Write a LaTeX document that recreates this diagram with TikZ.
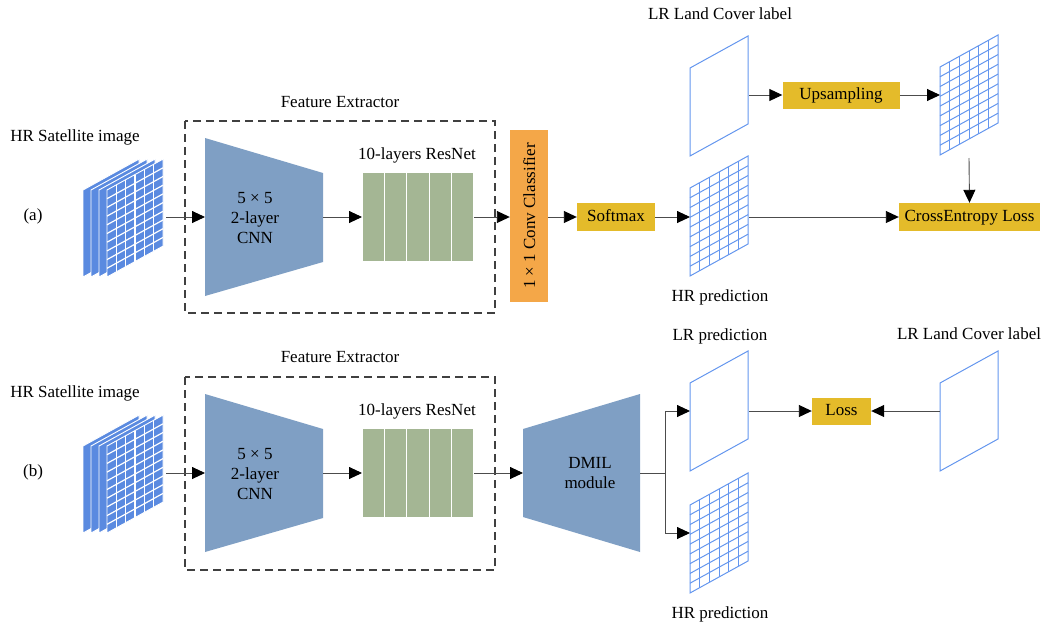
\documentclass[tikz,border=0pt]{standalone}
\usepackage{fontspec}
\setmainfont{Liberation Serif}
\usetikzlibrary{arrows.meta,calc}
\definecolor{satblue}{RGB}{90,138,224}
\definecolor{planeblue}{RGB}{100,150,238}
\definecolor{trapblue}{RGB}{127,159,196}
\definecolor{resgreen}{RGB}{164,182,148}
\definecolor{convorange}{RGB}{244,167,72}
\definecolor{boxyellow}{RGB}{228,187,42}
\tikzset{
  lbl/.style={font=\fontsize{17}{20}\selectfont, inner sep=0pt, text height=11.5pt, text depth=3.5pt},
  multi/.style={font=\fontsize{17}{20}\selectfont, inner sep=0pt, align=center},
  arr/.style={draw=black!70, line width=0.9pt, -{Triangle[length=13pt,width=12pt,black]}},
  conn/.style={draw=black!70, line width=0.9pt},
  ybox/.style={fill=boxyellow, font=\fontsize{17}{20}\selectfont, inner sep=0pt, text height=11.5pt, text depth=3.5pt},
  dbox/.style={draw=black!75, dash pattern=on 8pt off 5pt, line width=1.4pt},
  planeline/.style={draw=planeblue, line width=1pt},
  trap/.style={fill=trapblue},
  resblock/.style={fill=resgreen, draw=white, line width=1.2pt},
}
% plane: #1 left x, #2 left-top y, #3 grid (1) or empty (0), #4 rows
\newcommand{\plane}[4]{%
  \begin{scope}[shift={(#1,#2)}, yslant=0.5517]
    \ifnum#3=1
      \foreach \i in {1,...,5} \draw[planeline] ({\i*58/6},0) -- ({\i*58/6},88);
      \foreach \j in {1,...,#4} \draw[planeline] (0,{\j*88/(#4+1)}) -- (58,{\j*88/(#4+1)});
    \fi
    \draw[planeline] (0,0) rectangle (58,88);
  \end{scope}}
% satellite stack: #1 top-left y of layers
\newcommand{\satstack}[1]{%
  \foreach \k in {0,1,2} {
    \begin{scope}[shift={({83+8*\k},#1)}, yslant=0.5517]
      \draw[fill=satblue, draw=white, line width=0.9pt] (0,0) rectangle (56,87);
    \end{scope}}
  \begin{scope}[shift={(107,#1)}, yslant=0.5517]
    \fill[satblue] (0,0) rectangle (56,87);
    \foreach \i in {1,...,5} \draw[white, line width=1.2pt] ({\i*56/6},0) -- ({\i*56/6},87);
    \foreach \j in {1,...,9} \draw[white, line width=1.2pt] (0,{\j*8.7}) -- (56,{\j*8.7});
    \draw[white, line width=0.9pt] (0,0) rectangle (56,87);
  \end{scope}}
% trapezoid shrinking to right
\newcommand{\cnn}[1]{%
  \fill[trapblue] (205,{#1-79}) -- (323,{#1-44}) -- (323,{#1+45}) -- (205,{#1+79}) -- cycle;}
\newcommand{\resnet}[1]{%
  \foreach \k in {0,...,4} \draw[resblock] ({362+22.4*\k},{#1-45}) rectangle ({362+22.4*(\k+1)},{#1+45});}
\begin{document}
\begin{tikzpicture}[x=1pt,y=-1pt]
\useasboundingbox (0,0) rectangle (1044,624);

% ================= (a) =================
\node[lbl] (la) at (33,216) {(a)};
\node[lbl] (sattxta) at (75,137) {HR Satellite image};
\satstack{190}
\coordinate (sata-e) at (166,217);
\node[lbl] (fea) at (340,103) {Feature Extractor};
\draw[dbox] (185,121) rectangle (495,313);
\cnn{217}
\coordinate (cnna-w) at (205,217);
\coordinate (cnna-e) at (323,217);
\node[multi] (cnntxta) at (255,218) {5 × 5\\2-layer\\CNN};
\node[lbl] (restxta) at (417,155) {10-layers ResNet};
\resnet{217}
\coordinate (resa-w) at (362,217);
\coordinate (resa-e) at (474,217);
\node[fill=convorange, minimum width=38pt, minimum height=172pt, inner sep=0pt] (conv) at (529,216) {};
\node[lbl, rotate=90] (convtxt) at (531,216) {1 × 1 Conv Classifier};
\node[ybox, minimum width=78pt, minimum height=28pt] (softmax) at (616,217) {Softmax};
\plane{690}{188}{1}{8}
\coordinate (hrpa-w) at (690,217);
\coordinate (hrpa-e) at (749,217);
\node[lbl] (hrptxta) at (720,297) {HR prediction};
\node[lbl] (lrtxta) at (720,15) {LR Land Cover label};
\plane{690}{68}{0}{0}
\coordinate (lra-e) at (749,95);
\node[ybox, minimum width=117pt, minimum height=27pt] (ups) at (841,95) {Upsampling};
\plane{940}{67}{1}{8}
\coordinate (upg-w) at (940,95);
\coordinate (upg-s) at (969,158);
\node[ybox, minimum width=141pt, minimum height=28pt] (ce) at (969.5,217) {CrossEntropy Loss};

\draw[arr] (sata-e) -- (cnna-w);
\draw[arr] (cnna-e) -- (resa-w);
\draw[arr] (resa-e) -- (conv.west |- resa-e);
\draw[arr] (conv.east |- softmax) -- (softmax.west);
\draw[arr] (softmax.east) -- (hrpa-w);
\draw[arr] (hrpa-e) -- (ce.west);
\draw[arr] (lra-e) -- (ups.west);
\draw[arr] (ups.east) -- (upg-w);
\draw[arr] (upg-s) -- (ce.north);

% ================= (b) =================
\node[lbl] (lb) at (33,472) {(b)};
\node[lbl] (sattxtb) at (75,393) {HR Satellite image};
\satstack{446}
\coordinate (satb-e) at (166,473);
\node[lbl] (feb) at (340,358) {Feature Extractor};
\draw[dbox] (185,377) rectangle (495,570);
\cnn{473}
\coordinate (cnnb-w) at (205,473);
\coordinate (cnnb-e) at (323,473);
\node[multi] (cnntxtb) at (255,474) {5 × 5\\2-layer\\CNN};
\node[lbl] (restxtb) at (417,411) {10-layers ResNet};
\resnet{473}
\coordinate (resb-w) at (362,473);
\coordinate (resb-e) at (474,473);
\fill[trapblue] (523,429) -- (640,394) -- (640,552) -- (523,517) -- cycle;
\coordinate (dmil-w) at (523,473);
\coordinate (dmil-e) at (640,473);
\node[multi] (dmiltxt) at (590,473) {DMIL\\module};
\coordinate (branch) at (665,473);
\node[lbl] (lrptxt) at (720,336) {LR prediction};
\plane{690}{383}{0}{0}
\coordinate (lrp-w) at (690,411);
\coordinate (lrp-e) at (749,411);
\plane{690}{505}{1}{8}
\coordinate (hrpb-w) at (690,533);
\node[lbl] (hrptxtb) at (720,614) {HR prediction};
\node[ybox, minimum width=59pt, minimum height=27pt] (loss) at (841.5,411) {Loss};
\node[lbl] (lrtxtb) at (969,335) {LR Land Cover label};
\plane{940}{383}{0}{0}
\coordinate (lrb-w) at (940,411);

\draw[arr] (satb-e) -- (cnnb-w);
\draw[arr] (cnnb-e) -- (resb-w);
\draw[arr] (resb-e) -- (dmil-w);
\draw[conn] (dmil-e) -- (branch);
\draw[arr] (branch) |- (lrp-w);
\draw[arr] (branch) |- (hrpb-w);
\draw[arr] (lrp-e) -- (loss.west);
\draw[arr] (lrb-w) -- (loss.east);
\end{tikzpicture}
\end{document}
